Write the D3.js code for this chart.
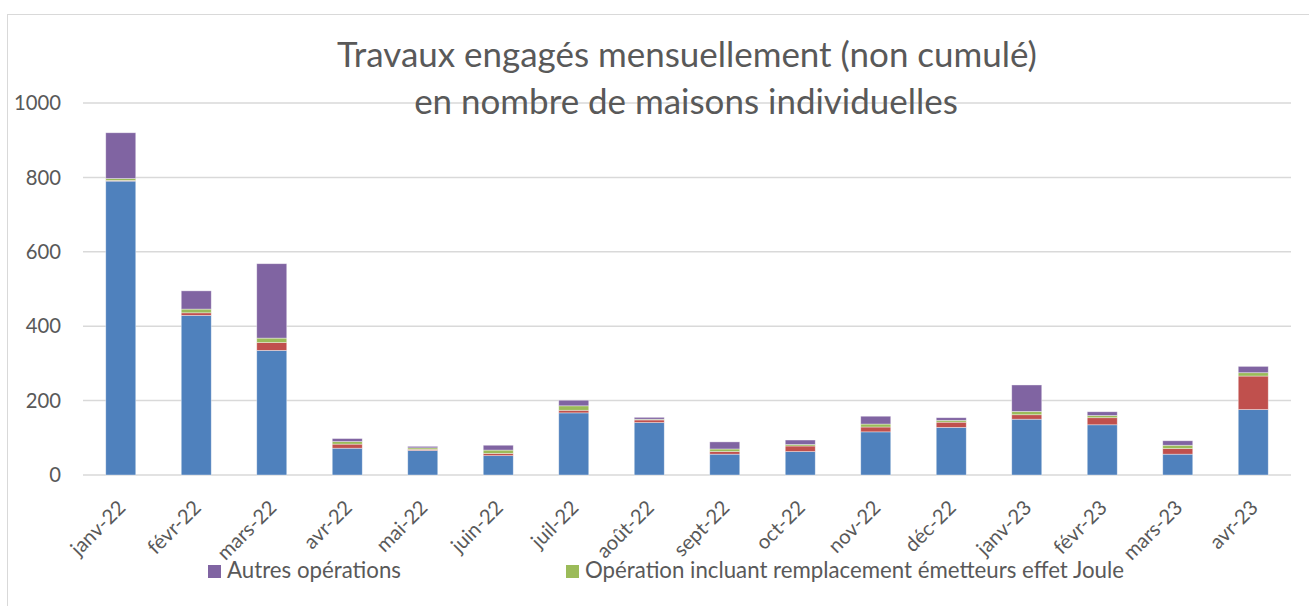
<!DOCTYPE html>
<html>
<head>
<meta charset="utf-8">
<script src="https://cdn.jsdelivr.net/npm/d3@7"></script>
<style>
  html, body { margin: 0; padding: 0; background: #fff; }
  svg { display: block; }
  text { font-family: Lato, "Open Sans", sans-serif; fill: #595959; }
</style>
</head>
<body>
<svg id="chart" width="1309" height="606"></svg>
<script>
// ---- Data ----
const categories = ["janv-22","févr-22","mars-22","avr-22","mai-22","juin-22","juil-22","août-22",
                    "sept-22","oct-22","nov-22","déc-22","janv-23","févr-23","mars-23","avr-23"];
const serieBleue  = [790, 429, 335, 72, 66, 52, 167, 141, 56, 63, 116, 128, 150, 135, 56, 176];
const serieRouge  = [2, 7, 21, 11, 3, 6, 7, 7, 7, 15, 13, 14, 12, 19, 15, 90];
const serieVerte  = [5, 10, 12, 7, 4, 9, 12, 2, 7, 4, 8, 5, 9, 6, 9, 9];
const serieViolette = [123, 49, 200, 8, 4, 13, 15, 5, 19, 12, 21, 7, 71, 10, 12, 17];
const yTicks = [0, 200, 400, 600, 800, 1000];
const titleLines = ["Travaux engagés mensuellement (non cumulé)", "en nombre de maisons individuelles"];
const seriesKeys = ["bleu", "rouge", "vert", "violet"];
const seriesColors = ["#4f81bd", "#c0504d", "#9bbb59", "#8064a2"];
const legendItems = [
  { label: "Autres opérations", color: "#8064a2" },
  { label: "Opération incluant remplacement émetteurs effet Joule", color: "#9bbb59" }
];

// ---- Table for stacking ----
const table = categories.map((c, i) => ({
  cat: c, bleu: serieBleue[i], rouge: serieRouge[i], vert: serieVerte[i], violet: serieViolette[i]
}));

const svg = d3.select("#chart");

// helper: fit font-size to a target width
function fitSize(text, target, base) {
  const t = svg.append("text").attr("font-size", base).text(text);
  const w = t.node().getComputedTextLength();
  t.remove();
  return base * target / w;
}

// Chart border
svg.append("rect")
  .attr("x", 7.5).attr("y", 14.5).attr("width", 1320).attr("height", 620)
  .attr("fill", "none").attr("stroke", "#d9d9d9").attr("stroke-width", 1);

const x = d3.scaleBand().domain(categories).range([83, 1291])
  .paddingInner(0.6026).paddingOuter(0.3013);
const y = d3.scaleLinear().domain([0, 1000]).range([475, 103]);

// Gridlines
svg.append("g").selectAll("line").data(yTicks).join("line")
  .attr("x1", 83).attr("x2", 1291)
  .attr("y1", d => y(d)).attr("y2", d => y(d))
  .attr("stroke", "#d9d9d9").attr("stroke-width", 1.5);

// Tick font size
const tickSize = fitSize("1000", 47, 20);

// Y axis labels
svg.append("g").selectAll("text").data(yTicks).join("text")
  .attr("x", 61).attr("y", d => y(d))
  .attr("dy", "0.36em")
  .attr("text-anchor", "end")
  .attr("font-size", tickSize)
  .text(d => d);

// Stacked bars
const stack = d3.stack().keys(seriesKeys);
const stacked = stack(table);
svg.append("g").selectAll("g").data(stacked).join("g")
  .attr("fill", (d, i) => seriesColors[i])
  .selectAll("rect").data(d => d).join("rect")
  .attr("x", d => x(d.data.cat))
  .attr("width", x.bandwidth())
  .attr("y", d => y(d[1]))
  .attr("height", d => Math.max(0, y(d[0]) - y(d[1])))
  .attr("stroke", "#ffffff").attr("stroke-opacity", 0.5).attr("stroke-width", 0.75);

// X labels rotated
svg.append("g").selectAll("text").data(categories).join("text")
  .attr("text-anchor", "end")
  .attr("font-size", tickSize)
  .attr("transform", d => `translate(${x(d) + x.bandwidth() / 2 + 6},${509}) rotate(-45)`)
  .text(d => d);

// Title
const t1 = fitSize(titleLines[0], 700, 33);
svg.append("text").attr("x", 687).attr("y", 67).attr("text-anchor", "middle")
  .attr("font-size", t1).text(titleLines[0]);
svg.append("text").attr("x", 686).attr("y", 114).attr("text-anchor", "middle")
  .attr("font-size", t1).text(titleLines[1]);

// Legend
const legSize = fitSize(legendItems[0].label, 174, 21);
const legX = [208, 566];
const lg = svg.append("g");
legendItems.forEach((it, i) => {
  lg.append("rect").attr("x", legX[i]).attr("y", 565).attr("width", 13).attr("height", 13)
    .attr("fill", it.color);
  lg.append("text").attr("x", legX[i] + 19).attr("y", 578)
    .attr("font-size", legSize).text(it.label);
});
</script>
</body>
</html>
